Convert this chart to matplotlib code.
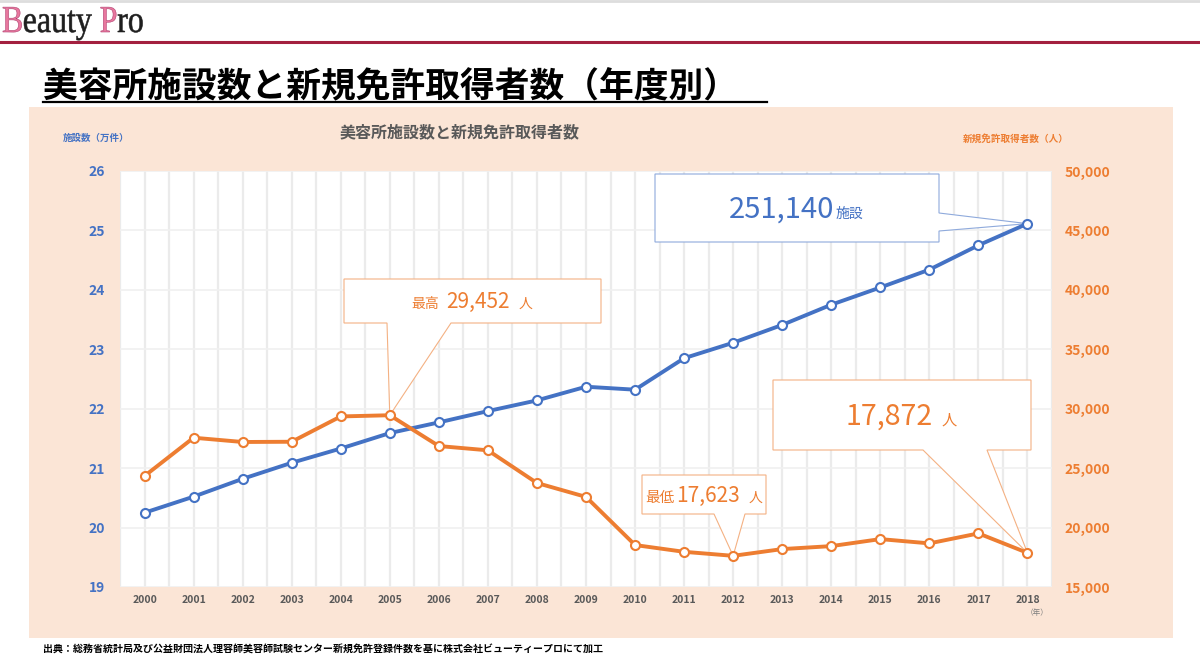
import matplotlib
matplotlib.use("Agg")
import matplotlib.pyplot as plt
import matplotlib.patches as patches
from matplotlib.ticker import MultipleLocator, FuncFormatter
from matplotlib.textpath import TextPath
from matplotlib.font_manager import FontProperties
from matplotlib.transforms import Affine2D

plt.rcParams['font.family'] = ['Noto Sans CJK JP', 'DejaVu Sans']

# data
years = list(range(2000, 2019))
facilities = [20.25, 20.52, 20.82, 21.09, 21.33, 21.59, 21.77, 21.96, 22.14, 22.37,
              22.32, 22.85, 23.11, 23.41, 23.75, 24.04, 24.34, 24.75, 25.114]
licenses = [24340, 27560, 27200, 27220, 29350, 29452, 26860, 26500, 23750, 22580,
            18530, 17960, 17623, 18190, 18440, 19030, 18670, 19510, 17872]

title = "美容所施設数と新規免許取得者数（年度別）"
chart_title = "美容所施設数と新規免許取得者数"
left_label = "施設数（万件）"
right_label = "新規免許取得者数（人）"
source = "出典：総務省統計局及び公益財団法人理容師美容師試験センター新規免許登録件数を基に株式会社ビューティープロにて加工"

BLUE = "#4472C4"
ORANGE = "#ED7D31"
PEACH = "#FBE5D6"
GRAY = "#595959"

W, H = 1200, 659


def fx(px):
    return px / W


def fy(py):
    return 1 - py / H


fig = plt.figure(figsize=(12, 6.59), dpi=100)
fig.patch.set_facecolor("white")

# header
fig.add_artist(plt.Line2D([0, 1], [fy(1), fy(1)], color="#dddddd", lw=2))
fig.add_artist(plt.Line2D([0, 1], [fy(42), fy(42)], color="#A3203F", lw=2.2))

# logo drawn as narrowed text paths
fp = FontProperties(family="Liberation Serif")
x = 2
for s, c, ec, gap in [("B", "#E8779E", "#B04070", 0), ("eauty", "#1E1E1E", "#1E1E1E", 7),
                      ("P", "#E8779E", "#B04070", 0), ("ro", "#1E1E1E", "#1E1E1E", 0)]:
    tp = TextPath((0, 0), s, size=38, prop=fp)
    tr = Affine2D().scale(0.84, 1).translate(x, H - 32).scale(1 / 100) + fig.dpi_scale_trans
    fig.add_artist(patches.PathPatch(tp, transform=tr, facecolor=c, edgecolor=ec, lw=0.4))
    x += tp.get_extents().x1 * 0.84 + 1 + gap

fig.text(fx(43), fy(97), title, fontsize=25, fontweight="bold", va="baseline", ha="left")
fig.add_artist(plt.Line2D([fx(43), fx(767)], [fy(102), fy(102)], color="black", lw=1.6))

# peach panel
fig.add_artist(patches.Rectangle((fx(29), fy(638)), fx(1173) - fx(29), fy(107) - fy(638),
                                 transform=fig.transFigure, facecolor=PEACH,
                                 edgecolor="none", zorder=-1))
fig.text(fx(460), fy(132), chart_title, fontsize=11.5, fontweight="bold", color=GRAY,
         ha="center", va="center")
fig.text(fx(63), fy(138), left_label, fontsize=6.8, fontweight="bold", color=BLUE,
         ha="left", va="center")
fig.text(fx(963), fy(139), right_label, fontsize=6.9, fontweight="bold", color=ORANGE,
         ha="left", va="center")
fig.text(fx(1037), fy(613), "（年）", fontsize=5.5, color="#7F7F7F", ha="center", va="center")
fig.text(fx(43), fy(650), source, fontsize=7.2, fontweight="bold", color="black",
         ha="left", va="center")

# axes
ax = fig.add_axes([fx(120), fy(587), (1052 - 120) / W, (587 - 171) / H])
ax.set_facecolor("white")
ax.set_xlim(1999.5, 2018.5)
ax.set_ylim(19, 26)
ax.set_xticks(years)
ax.xaxis.set_minor_locator(MultipleLocator(0.5))
ax.set_yticks(range(19, 27))
ax.grid(True, which="both", axis="x", color="#EBEBEB", lw=1.6, zorder=0)
ax.grid(True, which="major", axis="y", color="#F0F0F0", lw=1.2, zorder=0)
ax.set_axisbelow(True)
for sp in ax.spines.values():
    sp.set_visible(False)
ax.tick_params(axis="x", which="both", length=0, pad=6, labelsize=7.5, labelcolor=GRAY)
ax.tick_params(axis="y", length=0, pad=11, labelsize=10, labelcolor=BLUE)
for lab in ax.get_xticklabels() + ax.get_yticklabels():
    lab.set_fontweight("bold")

ax.plot(years, facilities, color=BLUE, lw=2.8, marker="o", ms=6.5,
        mfc="white", mec=BLUE, mew=1.5, zorder=3)

ax2 = ax.twinx()
ax2.set_ylim(15000, 50000)
ax2.set_yticks(range(15000, 50001, 5000))
ax2.yaxis.set_major_formatter(FuncFormatter(lambda v, p: f"{int(v):,}"))
for sp in ax2.spines.values():
    sp.set_visible(False)
ax2.tick_params(axis="y", length=0, pad=9, labelsize=10, labelcolor=ORANGE)
for lab in ax2.get_yticklabels():
    lab.set_fontweight("bold")

ax2.plot(years, licenses, color=ORANGE, lw=2.8, marker="o", ms=6.5,
         mfc="white", mec=ORANGE, mew=1.5, zorder=3)


# callouts (box in axes fraction, pointer tip from data)
def tip_of(a, xv, yv):
    return tuple(ax.transAxes.inverted().transform(a.transData.transform((xv, yv))))


def callout(host, tip, box, wedge, side, ec):
    l, b, r, t = box
    w1, w2 = wedge
    if side == "bottom":
        verts = [(l, t), (r, t), (r, b), (w2, b), tip, (w1, b), (l, b)]
    else:
        verts = [(l, t), (r, t), (r, w1), tip, (r, w2), (r, b), (l, b)]
    host.add_patch(patches.Polygon(verts, closed=True, transform=ax.transAxes,
                                   facecolor="white", edgecolor=ec, lw=0.8,
                                   zorder=2, clip_on=False))


def ax_x(px):
    return (px - 120) / 932


def ax_y(py):
    return (587 - py) / 416


i_max = licenses.index(max(licenses))
i_min = licenses.index(min(licenses))

callout(ax, tip_of(ax, years[-1], facilities[-1]),
        (ax_x(655), ax_y(242), ax_x(939), ax_y(174)), (ax_y(213), ax_y(231)),
        "right", "#8FAADC")
callout(ax2, tip_of(ax2, years[i_max], licenses[i_max]),
        (ax_x(344), ax_y(323), ax_x(601), ax_y(279)), (ax_x(387), ax_x(451)),
        "bottom", "#F4B183")
callout(ax2, tip_of(ax2, years[i_min], licenses[i_min]),
        (ax_x(642), ax_y(514), ax_x(766), ax_y(475)), (ax_x(714), ax_x(745)),
        "bottom", "#F4B183")
callout(ax2, tip_of(ax2, years[-1], licenses[-1]),
        (ax_x(773), ax_y(450), ax_x(1031), ax_y(380)), (ax_x(923), ax_x(987)),
        "bottom", "#F4B183")

# callout texts
fig.text(fx(834), fy(218), f"{round(facilities[-1] * 10000):,}", fontsize=21,
         color=BLUE, ha="right", va="baseline")
fig.text(fx(836), fy(218), "施設", fontsize=10, color=BLUE, ha="left", va="baseline")

fig.text(fx(411), fy(308), "最高", fontsize=10, color=ORANGE, ha="left", va="baseline")
fig.text(fx(446), fy(308), f"{licenses[i_max]:,}", fontsize=15, color=ORANGE,
         ha="left", va="baseline")
fig.text(fx(519), fy(308), "人", fontsize=10, color=ORANGE, ha="left", va="baseline")

fig.text(fx(645), fy(502), "最低", fontsize=10.5, color=ORANGE, ha="left", va="baseline")
fig.text(fx(676), fy(502), f"{licenses[i_min]:,}", fontsize=15, color=ORANGE,
         ha="left", va="baseline")
fig.text(fx(749), fy(502), "人", fontsize=10, color=ORANGE, ha="left", va="baseline")

fig.text(fx(933), fy(425), f"{licenses[-1]:,}", fontsize=20.5, color=ORANGE,
         ha="right", va="baseline")
fig.text(fx(942), fy(425), "人", fontsize=11, color=ORANGE, ha="left", va="baseline")

fig.savefig("out.png", dpi=100)
